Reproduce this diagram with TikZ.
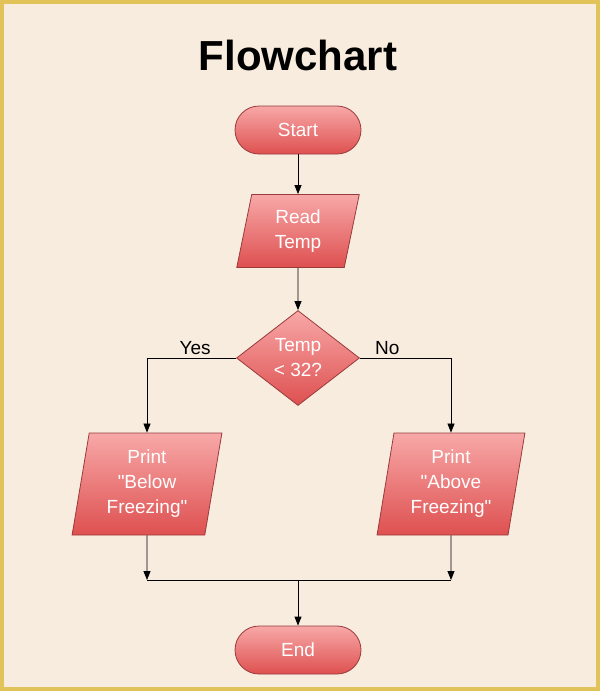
\documentclass[tikz,border=0pt]{standalone}
\usepackage{fontspec}
\setmainfont{Liberation Sans}
\usetikzlibrary{shapes.geometric,arrows.meta}
\definecolor{bgpaper}{HTML}{F8ECDF}
\definecolor{goldrim}{HTML}{E2C35A}
\definecolor{boxtop}{HTML}{F8A8A8}
\definecolor{boxbot}{HTML}{DE5050}
\definecolor{boxline}{HTML}{9A3A3A}
\tikzset{
  box/.style={draw=boxline,line width=0.8pt,top color=boxtop,bottom color=boxbot,
    text=white,font=\fontsize{19}{25}\selectfont,align=center,inner sep=0pt},
  term/.style={box,rounded corners=24pt,minimum width=126pt,minimum height=48pt},
  io/.style={box,trapezium,trapezium left angle=80,trapezium right angle=100,
    trapezium stretches=true},
  decide/.style={box,diamond,minimum width=123pt,minimum height=95pt},
  flow/.style={-{Triangle[length=9pt,width=7pt]},line width=0.8pt},
  lbl/.style={font=\fontsize{19}{21}\selectfont}
}
\begin{document}
\begin{tikzpicture}[x=1pt,y=-1pt]
\fill[goldrim] (0,0) rectangle (600,691);
\fill[bgpaper] (4,4) rectangle (596,687);
\useasboundingbox (0,0) rectangle (600,691);
\node[font=\fontsize{42}{44}\selectfont\bfseries] (title) at (298,55) {Flowchart};
\node[term] (start) at (298,130) {Start};
\node[io,minimum width=123pt,minimum height=73pt] (read) at (298,231) {Read\\Temp};
\node[decide] (dec) at (298,358) {Temp\\< 32?};
\node[io,minimum width=150pt,minimum height=102pt] (below) at (147,484) {Print\\\textquotedbl Below\\Freezing\textquotedbl};
\node[io,minimum width=148pt,minimum height=102pt] (above) at (451,484) {Print\\\textquotedbl Above\\Freezing\textquotedbl};
\node[term] (end) at (298,650) {End};
\coordinate (ml) at (147,580);
\coordinate (mr) at (451,580);
\coordinate (mm) at (298,580);
\draw[flow] (start) -- (read);
\draw[flow] (read) -- (dec);
\draw[flow] (dec.west) -| (below.north) node[lbl,pos=0.23,above] {Yes};
\draw[flow] (dec.east) -| (above.north) node[lbl,pos=0.15,above] {No};
\draw[flow] (below.south) -- (ml);
\draw[flow] (above.south) -- (mr);
\draw[line width=0.8pt] (ml) -- (mr);
\draw[flow] (mm) -- (end);
\end{tikzpicture}
\end{document}
